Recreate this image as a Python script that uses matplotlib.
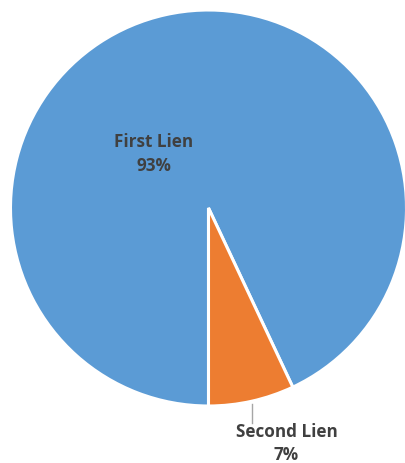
import matplotlib
matplotlib.use("Agg")
import matplotlib.pyplot as plt

categories = ["First Lien", "Second Lien"]
values = [93, 7]
colors = ["#5B9BD5", "#ED7D31"]

W, H = 405, 463
cx, cy = 208.5, 208.0   # pixel center (from top)
R = 198.0

fig = plt.figure(figsize=(W / 100, H / 100), dpi=100)
ax = fig.add_axes([0, 0, 1, 1])
ax.pie(values, colors=colors, startangle=-90, counterclock=False,
       wedgeprops=dict(edgecolor="white", linewidth=2.2), radius=1.0)
ax.set_xlim(-cx / R, (W - cx) / R)
ax.set_ylim(-(H - cy) / R, cy / R)
ax.set_aspect("auto")
ax.axis("off")

def px(x, y):
    return (x - cx) / R, (cy - y) / R

font = dict(family=["Open Sans", "DejaVu Sans"], fontweight="bold",
            color="#404040", fontsize=12.3, ha="center", va="baseline")

x, y = px(153.5, 147)
ax.text(x, y, categories[0], **font)
x, y = px(153.5, 171)
ax.text(x, y, f"{values[0]}%", **font)
x, y = px(286.5, 437)
ax.text(x, y, categories[1], **font)
x, y = px(286.5, 459.5)
ax.text(x, y, f"{values[1]}%", **font)

x0, y0 = px(252, 404)
x1, y1 = px(252, 423)
ax.plot([x0, x1], [y0, y1], color="#A6A6A6", linewidth=1)

fig.savefig("out.png", dpi=100)
